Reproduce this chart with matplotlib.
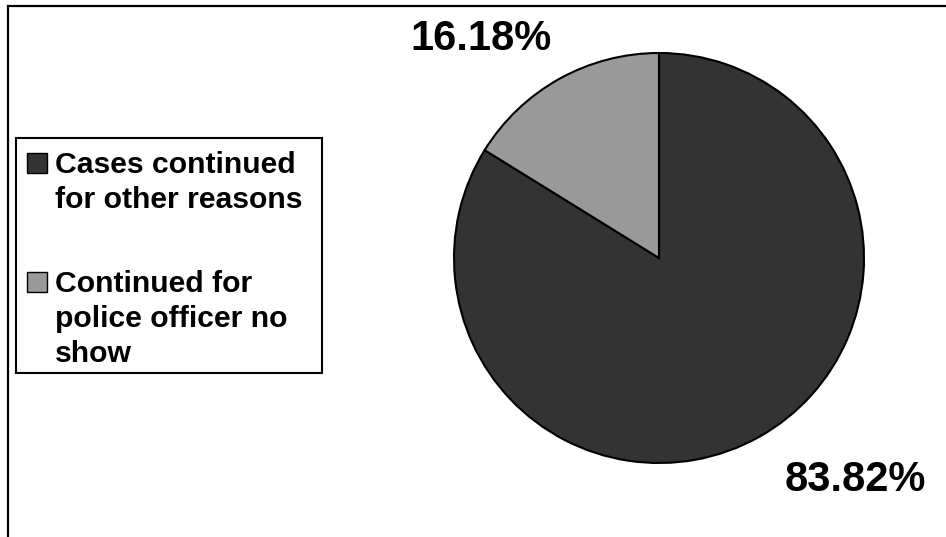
import matplotlib
matplotlib.use("Agg")
import matplotlib.pyplot as plt
from matplotlib.lines import Line2D
from matplotlib.patches import Rectangle
from matplotlib.transforms import Affine2D

plt.rcParams['font.family'] = ['Liberation Sans', 'DejaVu Sans']

categories = ["Cases continued\nfor other reasons", "Continued for\npolice officer no\nshow"]
shares = [83.82, 16.18]
colors = ["#333333", "#999999"]

W, H = 946, 537
fig = plt.figure(figsize=(W / 100, H / 100), dpi=100)
fig.patch.set_facecolor("white")

# pixel coordinates measured from the top-left corner of the figure
px = Affine2D().scale(1 / W, -1 / H).translate(0, 1) + fig.transFigure

# outer frame: top and left edges only
fig.add_artist(Line2D([8, W], [6, 6], color="black", lw=1.6, transform=px))
fig.add_artist(Line2D([8, 8], [6, H], color="black", lw=1.6, transform=px))

# pie axes: center (659, 258) px, radius 205 px
cx, cy, r = 659, 258, 205
ax = fig.add_axes([(cx - r) / W, 1 - (cy + r) / H, 2 * r / W, 2 * r / H])
wedges, _ = ax.pie(shares, colors=colors, startangle=90, counterclock=False,
                   radius=1.0, wedgeprops=dict(edgecolor="black", linewidth=1.5))
ax.set_xlim(-1, 1)
ax.set_ylim(-1, 1)
ax.set_aspect("equal")
ax.axis("off")

# percentage labels (baseline anchored)
label_pos = [(0.956, -1.135), (-0.868, 1.015)]
for val, (lx, ly) in zip(shares, label_pos):
    ax.text(lx, ly, f"{val:.2f}%", ha="center", va="baseline", fontsize=30,
            fontweight="bold", clip_on=False)

# legend box with square keys aligned to the first line of each entry
fig.add_artist(Rectangle((16, 138), 306, 235, transform=px, facecolor="white",
                         edgecolor="black", lw=1.5))
first_baselines = [173, 292]
line_step = 35
for label, color, base in zip(categories, colors, first_baselines):
    fig.add_artist(Rectangle((27, base - 20), 20, 20, transform=px,
                             facecolor=color, edgecolor="black", lw=1.0))
    for i, line in enumerate(label.split("\n")):
        y = base + i * line_step
        fig.text(55 / W, 1 - y / H, line, ha="left", va="baseline",
                 fontsize=21.7, fontweight="bold")

fig.savefig("out.png", dpi=100)
